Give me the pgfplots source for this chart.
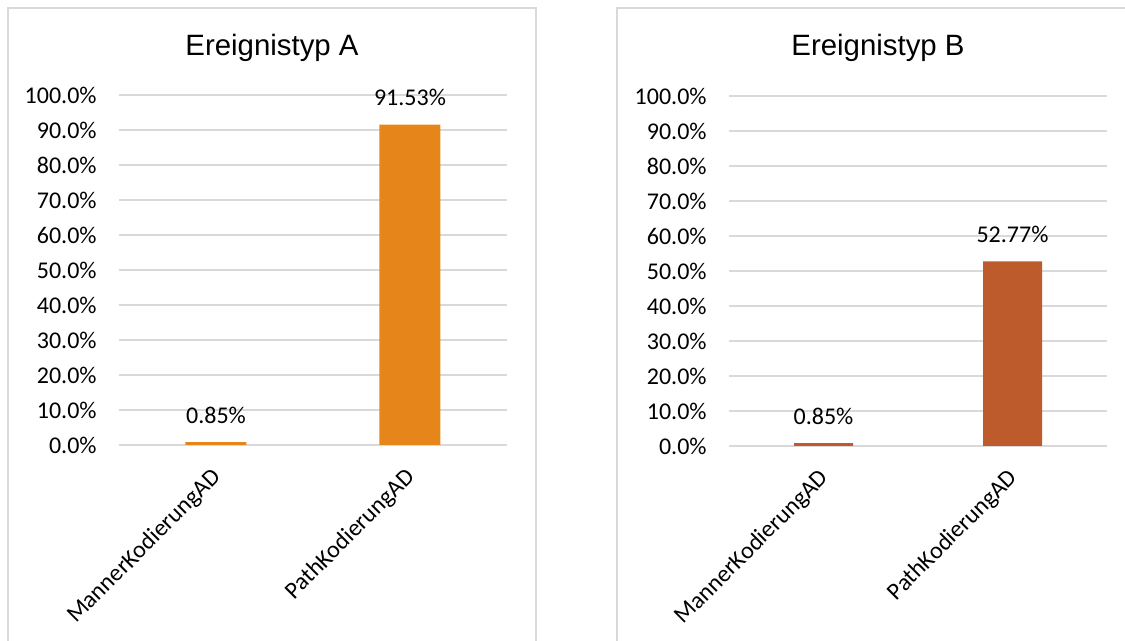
\documentclass[border=0pt]{standalone}
\usepackage{fontspec}
\setmainfont{Carlito}
\newfontfamily\titlefont{Liberation Sans}
\usepackage{pgfplots}
\pgfplotsset{compat=1.18}

\definecolor{gridgray}{HTML}{D9D9D9}
\definecolor{barA}{HTML}{E6861A}
\definecolor{barB}{HTML}{BE5B2D}

\pgfplotsset{
  panel/.style={
    scale only axis,
    anchor=south west,
    height=175pt,
    ymin=0, ymax=100,
    xmin=-0.5, xmax=1.5,
    xtick={0,1},
    xticklabels={MannerKodierungAD, PathKodierungAD},
    ytick={0,10,...,100},
    ymajorgrids,
    grid style={color=gridgray, line width=0.75pt},
    axis line style={draw=none},
    major tick style={draw=none},
    clip=false,
    font=\fontsize{12}{14}\selectfont,
    /pgf/number format/assume math mode=true,
    yticklabel={\pgfmathprintnumber[fixed,fixed zerofill,precision=1]{\tick}\%},
    yticklabel style={anchor=east, inner sep=0pt, xshift=-11pt},
    xticklabel style={xshift=-3pt, yshift=-10.5pt, rotate=45, anchor=north east, inner sep=0pt},
    nodes near coords={\pgfmathprintnumber[fixed,fixed zerofill,precision=2]{\pgfplotspointmeta}\%},
    every node near coord/.append style={anchor=base, yshift=9.5pt, inner sep=0pt, text=black, font=\fontsize{12}{14}\selectfont},
  },
}

\begin{document}
\begin{tikzpicture}
  \useasboundingbox (0pt,0pt) rectangle (562.5pt,320.5pt);
  % panel frames
  \begin{scope}
    \clip (0pt,0pt) rectangle (562.5pt,320.5pt);
    \draw[gridgray, line width=0.75pt] (4pt,-5pt) rectangle (268pt,316.5pt);
    \draw[gridgray, line width=0.75pt] (308.5pt,-5pt) rectangle (575pt,316.5pt);
  \end{scope}

  % panel titles
  \node[anchor=base, font=\titlefont\fontsize{14.7}{17}\selectfont] at (136pt,292.5pt) {Ereignistyp A};
  \node[anchor=base, font=\titlefont\fontsize{14.7}{17}\selectfont] at (439pt,292.5pt) {Ereignistyp B};

  % Ereignistyp A
  \begin{axis}[panel, at={(59.5pt,98pt)}, width=194pt]
    \addplot[ybar, bar width=30.5pt, fill=barA, draw=none] coordinates {(0,0.85) (1,91.53)};
  \end{axis}

  % Ereignistyp B
  \begin{axis}[panel, at={(364.5pt,97.5pt)}, width=189pt]
    \addplot[ybar, bar width=29.5pt, fill=barB, draw=none] coordinates {(0,0.85) (1,52.77)};
  \end{axis}
\end{tikzpicture}
\end{document}
